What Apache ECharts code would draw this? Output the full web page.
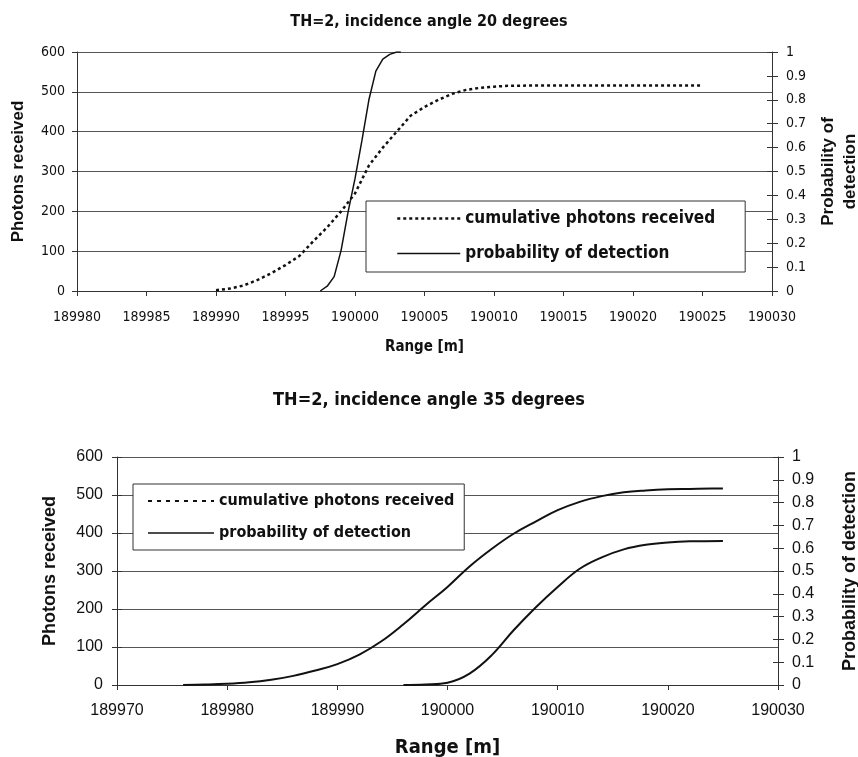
<!DOCTYPE html>
<html>
<head>
<meta charset="utf-8">
<script src="https://cdn.jsdelivr.net/npm/echarts@6/dist/echarts.min.js"></script>
<style>
  html, body { margin: 0; padding: 0; background: #fff; }
  #top { position: absolute; left: 0; top: 0; width: 858px; height: 360px; }
  #bottom { position: absolute; left: 0; top: 360px; width: 858px; height: 397px; }
</style>
</head>
<body>
<div id="top"></div>
<div id="bottom"></div>
<script>
// 图1: incidence angle 20 degrees
const rangeTop = [189990, 189991, 189992, 189993, 189994, 189995, 189996, 189997, 189998, 189999,
  190000, 190001, 190002, 190003, 190004, 190005, 190006, 190007, 190008, 190009, 190010, 190011,
  190013, 190015, 190017, 190019, 190021, 190023, 190025];
const photonsTop = [2, 6, 14, 28, 45, 65, 88, 125, 160, 200,
  245, 315, 360, 400, 440, 462, 480, 495, 505, 510, 513, 515,
  516, 516, 516, 516, 516, 516, 516];
const probRangeTop = [189997.5, 189998, 189998.5, 189999, 189999.5, 190000, 190000.5, 190001,
  190001.5, 190002, 190002.5, 190003, 190003.3];
const probTop = [0, 0.02, 0.06, 0.17, 0.33, 0.47, 0.63, 0.8, 0.92, 0.97, 0.99, 1, 1];

// 图2: incidence angle 35 degrees
const rangeBottom = [189976, 189978, 189980, 189982, 189984, 189986, 189988, 189990, 189992, 189994,
  189996, 189998, 190000, 190002, 190004, 190006, 190008, 190010, 190012, 190014, 190016, 190018,
  190020, 190022, 190024, 190025];
const photonsBottom = [0, 1, 3, 7, 14, 24, 38, 55, 80, 115,
  160, 210, 258, 312, 358, 398, 430, 460, 482, 497, 507, 512,
  515, 516, 517, 517];
const probRangeBottom = [189996, 189998, 190000, 190002, 190004, 190006, 190008, 190010, 190012,
  190014, 190016, 190018, 190020, 190022, 190025];
const probBottom = [0, 0.002, 0.01, 0.05, 0.13, 0.24, 0.34, 0.43, 0.51, 0.56, 0.595, 0.615, 0.625, 0.63, 0.632];

const SERIES_CUM = 'cumulative photons received';
const SERIES_PROB = 'probability of detection';

const narrow = '"DejaVu Sans Condensed", "Liberation Sans Narrow", "Liberation Sans", Arial, sans-serif';
const sans = '"Liberation Sans", Arial, sans-serif';
const ink = '#111';
const gridColor = '#555';
const noMarker = {color: 'rgba(0,0,0,0)', borderWidth: 0, opacity: 0};

const zip = (xs, ys) => xs.map((x, i) => [x, ys[i]]);
const fmtProb = v => String(Math.round(v * 10) / 10);

// 只画刻度（向内），叠在主轴上做出“十字”刻度的效果
function innerTicks(position, max, interval, show) {
  return {
    type: 'value', min: 0, max: max, interval: interval, position: position, show: show,
    axisLine: {show: false},
    axisTick: {show: true, inside: true, length: 5, lineStyle: {color: '#333'}},
    axisLabel: {show: false},
    splitLine: {show: false},
  };
}

function makeChart(dom, cfg) {
  const chart = echarts.init(dom);
  chart.setOption({
    animation: false,
    backgroundColor: '#fff',
    title: {
      text: cfg.title,
      left: 'center',
      top: cfg.titleTop,
      textStyle: {fontFamily: narrow, fontWeight: 'bold', fontSize: cfg.titleSize, color: ink},
    },
    legend: {
      orient: 'vertical',
      left: cfg.legend.left,
      top: cfg.legend.top,
      padding: cfg.legend.padding,
      itemGap: cfg.legend.gap,
      itemWidth: cfg.legend.iconWidth,
      itemHeight: 12,
      borderColor: '#333',
      borderWidth: 1,
      backgroundColor: '#fff',
      textStyle: {fontFamily: narrow, fontWeight: 'bold', fontSize: cfg.legend.fontSize, color: ink},
      data: [
        {name: SERIES_CUM, lineStyle: cfg.legend.cumIcon, itemStyle: noMarker},
        {name: SERIES_PROB, lineStyle: {type: 'solid', width: 1.5, color: ink}, itemStyle: noMarker},
      ],
    },
    grid: Object.assign({outerBoundsMode: 'none', containLabel: false}, cfg.grid),
    xAxis: {
      type: 'value',
      min: cfg.xMin,
      max: cfg.xMax,
      interval: cfg.xStep,
      name: 'Range [m]',
      nameLocation: 'middle',
      nameGap: cfg.xNameGap,
      nameTextStyle: {fontFamily: narrow, fontWeight: 'bold', fontSize: cfg.xNameSize, color: ink},
      axisLine: {lineStyle: {color: '#333', width: 1}},
      axisTick: {length: 5, lineStyle: {color: '#333'}},
      axisLabel: {fontFamily: cfg.labelFont, fontSize: cfg.labelSize, color: ink, margin: cfg.xLabelMargin,
        formatter: v => String(v)},
      splitLine: {show: false},
    },
    yAxis: [
      {
        type: 'value',
        min: 0,
        max: 600,
        interval: 100,
        name: 'Photons received',
        nameLocation: 'middle',
        nameRotate: 90,
        nameGap: cfg.yNameGap,
        nameTextStyle: {fontFamily: sans, fontWeight: 'bold', fontSize: cfg.yNameSize, color: ink},
        axisLine: {show: true, lineStyle: {color: '#333', width: 1}},
        axisTick: {show: true, length: 5, lineStyle: {color: '#333'}},
        axisLabel: {fontFamily: cfg.labelFont, fontSize: cfg.labelSize, color: ink, margin: cfg.yLabelMargin},
        splitLine: {show: true, lineStyle: {color: gridColor, width: 1.2}},
      },
      {
        type: 'value',
        min: 0,
        max: 1,
        interval: 0.1,
        position: 'right',
        name: cfg.rightName,
        nameLocation: 'middle',
        nameRotate: 90,
        nameGap: cfg.rNameGap,
        nameTextStyle: {fontFamily: sans, fontWeight: 'bold', fontSize: cfg.yNameSize, color: ink, lineHeight: cfg.yNameSize + 5},
        axisLine: {show: true, lineStyle: {color: '#333', width: 1}},
        axisTick: {show: true, length: 6, lineStyle: {color: '#333'}},
        axisLabel: {fontFamily: cfg.labelFont, fontSize: cfg.labelSize, color: ink, margin: 14, formatter: fmtProb},
        splitLine: {show: false},
      },
      innerTicks('right', 1, 0.1, true),
      innerTicks('left', 600, 100, cfg.leftCross),
    ],
    series: [
      {
        name: SERIES_CUM,
        type: 'line',
        yAxisIndex: 0,
        symbol: 'none',
        smooth: cfg.smooth,
        lineStyle: cfg.cumStyle,
        itemStyle: {color: ink},
        data: cfg.cum,
      },
      {
        name: SERIES_PROB,
        type: 'line',
        yAxisIndex: 1,
        symbol: 'none',
        smooth: cfg.smooth,
        lineStyle: {type: 'solid', width: cfg.probWidth, color: ink},
        itemStyle: {color: ink},
        data: cfg.prob,
      },
    ],
  });
  return chart;
}

makeChart(document.getElementById('top'), {
  title: 'TH=2, incidence angle 20 degrees',
  titleTop: 9,
  titleSize: 16,
  grid: {left: 77, right: 86, top: 52, height: 239},
  xMin: 189980, xMax: 190030, xStep: 5,
  xNameGap: 49, xNameSize: 15, xLabelMargin: 19,
  labelFont: narrow, labelSize: 14,
  yLabelMargin: 12, yNameGap: 50, yNameSize: 17,
  rightName: 'Probability of\ndetection', rNameGap: 40,
  leftCross: false,
  legend: {left: 366, top: 201, padding: [9, 30, 10, 30], gap: 18, iconWidth: 63, fontSize: 17,
    cumIcon: {type: [3, 3], width: 2.5, color: ink}},
  smooth: false,
  probWidth: 1.5,
  cumStyle: {type: [3, 3], width: 2.5, color: ink},
  cum: zip(rangeTop, photonsTop),
  prob: zip(probRangeTop, probTop),
});

makeChart(document.getElementById('bottom'), {
  title: 'TH=2, incidence angle 35 degrees',
  titleTop: 26,
  titleSize: 18,
  grid: {left: 117, right: 80, top: 97, height: 228},
  xMin: 189970, xMax: 190030, xStep: 10,
  xNameGap: 53, xNameSize: 20, xLabelMargin: 18,
  labelFont: sans, labelSize: 16,
  yLabelMargin: 14, yNameGap: 58, yNameSize: 18,
  rightName: 'Probability of detection', rNameGap: 61,
  leftCross: true,
  legend: {left: 133, top: 124, padding: [9, 10, 9, 14], gap: 16, iconWidth: 66, fontSize: 16,
    cumIcon: {type: [4, 5], width: 2, color: ink}},
  smooth: 0.4,
  probWidth: 2,
  cumStyle: {type: 'solid', width: 2, color: ink},
  cum: zip(rangeBottom, photonsBottom),
  prob: zip(probRangeBottom, probBottom),
});
</script>
</body>
</html>
